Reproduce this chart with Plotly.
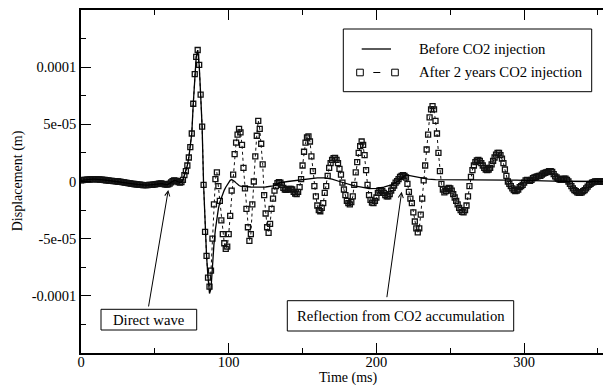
import plotly.graph_objects as go

# ---------------- data (displacement in units of 1e-5 m) ----------------
SCALE = 1e-5

time_after = list(range(0, 356))  # ms, 1 ms sampling
after_vals = [
    0.10, 0.12, 0.14, 0.15, 0.16, 0.17, 0.18, 0.19, 0.20, 0.20,
    0.20, 0.19, 0.18, 0.17, 0.16, 0.15, 0.13, 0.11, 0.09, 0.07,
    0.06, 0.05, 0.04, 0.03, 0.01, 0.00, -0.02, -0.04, -0.06, -0.08,
    -0.10, -0.12, -0.14, -0.16, -0.18, -0.20, -0.22, -0.24, -0.25, -0.27,
    -0.28, -0.30, -0.31, -0.32, -0.32, -0.31, -0.30, -0.30, -0.29, -0.28,
    -0.26, -0.23, -0.20, -0.18, -0.17, -0.19, -0.23, -0.26, -0.27, -0.25,
    -0.18, -0.08, 0.03, 0.09, 0.08, 0.02, -0.06, -0.10, -0.06, 0.15,
    0.55, 0.90, 1.40, 2.10, 3.00, 4.20, 6.80, 9.40, 10.90, 11.50,
    10.20, 7.60, 4.80, -0.30, -4.40, -6.50, -8.40, -9.20, -7.80, -5.00,
    -2.00, 0.20, 0.80, -0.40, -1.70, -3.40, -4.60, -5.40, -5.90, -5.70,
    -4.60, -3.00, -0.80, 0.60, 2.40, 3.40, 4.10, 4.60, 4.30, 3.20,
    1.20, -0.60, -2.40, -4.00, -5.20, -4.60, -2.00, 0.00, 2.20, 4.00,
    5.30, 4.60, 3.30, 1.50, -1.20, -2.80, -4.00, -4.50, -3.70, -2.40,
    -1.50, -0.80, -0.40, -0.15, -0.05, -0.10, -0.30, -0.55, -0.70, -0.72,
    -0.68, -0.64, -0.64, -0.70, -0.90, -1.05, -1.10, -0.90, -0.50, 0.20,
    1.40, 2.60, 3.40, 3.85, 3.95, 3.50, 2.20, 0.90, -0.40, -1.30,
    -2.10, -2.50, -2.60, -2.30, -1.90, -1.00, -0.40, 0.50, 1.20, 1.60,
    1.90, 2.05, 2.07, 1.90, 1.60, 1.10, 0.60, -0.10, -0.70, -1.20,
    -1.70, -1.90, -2.00, -1.80, -1.30, -0.30, 0.80, 1.70, 2.50, 3.10,
    3.50, 3.20, 2.30, 1.00, -0.30, -1.20, -1.60, -1.85, -1.90, -1.70,
    -1.40, -1.00, -0.80, -0.75, -0.85, -1.00, -1.20, -1.30, -1.30, -1.10,
    -0.80, -0.55, -0.35, -0.10, 0.03, 0.20, 0.40, 0.50, 0.55, 0.50,
    0.35, -0.20, -0.90, -1.50, -1.90, -2.70, -3.50, -4.10, -4.45, -4.10,
    -2.90, -1.50, 0.10, 1.40, 2.80, 4.10, 5.60, 6.30, 6.60, 6.30,
    5.30, 4.20, 2.50, 0.90, -0.20, -0.70, -0.95, -0.85, -0.65, -0.55,
    -0.60, -0.80, -1.10, -1.40, -1.70, -2.00, -2.30, -2.50, -2.65, -2.70,
    -2.50, -2.10, -1.30, -0.40, 0.40, 1.00, 1.40, 1.70, 1.85, 1.90,
    1.80, 1.60, 1.40, 1.20, 1.05, 1.00, 1.05, 1.20, 1.50, 1.80,
    2.10, 2.35, 2.50, 2.50, 2.30, 2.00, 1.60, 1.05, 0.50, 0.00,
    -0.20, -0.40, -0.60, -0.75, -0.85, -0.80, -0.70, -0.50, -0.40, -0.30,
    -0.10, 0.10, 0.15, 0.10, 0.05, 0.15, 0.30, 0.35, 0.40, 0.45,
    0.50, 0.50, 0.60, 0.70, 0.75, 0.80, 0.85, 0.90, 0.90, 0.85,
    0.65, 0.45, 0.35, 0.25, 0.17, 0.15, 0.20, 0.25, 0.25, 0.15,
    0.00, -0.20, -0.40, -0.60, -0.75, -0.85, -0.95, -1.00, -1.00, -0.95,
    -0.85, -0.75, -0.60, -0.45, -0.30, -0.20, -0.10, -0.05, 0.00, 0.00,
    0.00, 0.00, 0.00, 0.00, 0.00, 0.00,
]

time_before = list(range(0, 111)) + list(range(115, 360, 5))  # ms
before_vals = [
    0.10, 0.12, 0.14, 0.15, 0.16, 0.17, 0.18, 0.19, 0.20, 0.20,
    0.20, 0.19, 0.18, 0.17, 0.16, 0.15, 0.13, 0.11, 0.09, 0.07,
    0.06, 0.05, 0.04, 0.03, 0.01, 0.00, -0.02, -0.04, -0.06, -0.08,
    -0.10, -0.12, -0.14, -0.16, -0.18, -0.20, -0.22, -0.24, -0.25, -0.27,
    -0.28, -0.30, -0.31, -0.32, -0.32, -0.31, -0.30, -0.30, -0.29, -0.28,
    -0.26, -0.23, -0.20, -0.18, -0.17, -0.19, -0.23, -0.26, -0.27, -0.25,
    -0.18, -0.08, 0.03, 0.09, 0.08, 0.02, -0.06, -0.10, -0.06, 0.15,
    0.55, 0.90, 1.40, 2.10, 3.00, 4.20, 6.80, 9.40, 10.90, 11.50,
    10.20, 7.60, 4.80, -0.30, -4.40, -6.50, -8.40, -9.80, -9.40, -7.20,
    -5.50, -4.20, -3.20, -2.40, -1.80, -1.40, -1.00, -0.75, -0.50, -0.30,
    -0.10, 0.10, 0.17, 0.12, 0.00, -0.12, -0.25, -0.35, -0.40, -0.42,
    -0.43,
    -0.48, -0.50, -0.48, -0.38, -0.10, 0.00, 0.08, 0.17, 0.28, 0.32,
    0.32, 0.20, 0.00, -0.20, -0.38, -0.50, -0.62, -0.60, -0.50, -0.30,
    0.05, 0.58, 0.45, 0.28, 0.20, 0.17, 0.17, 0.17, 0.17, 0.17,
    0.17, 0.17, 0.17, 0.16, 0.15, 0.14, 0.12, 0.10, 0.07, 0.05,
    0.04, 0.03, 0.02, 0.01, 0.00, 0.00, 0.00, 0.00, 0.00,
]

x_tick_vals = [0, 100, 200, 300]
x_minor_vals = [50, 150, 250, 350]
y_tick_vals = [-1e-4, -5e-5, 0, 5e-5, 1e-4]
y_tick_text = ["-0.0001", "-5e-05", "0", "5e-05", "0.0001"]
y_minor_vals = [-1.25e-4, -7.5e-5, -2.5e-5, 2.5e-5, 7.5e-5, 1.25e-4]

series_names = ["Before CO2 injection", "After 2 years CO2 injection"]

# ---------------- figure ----------------
FONT = "Liberation Serif, Times New Roman, serif"
W, H = 603, 385
ML, MR, MT, MB = 81, 0, 10, 32
PW, PH = W - ML - MR, H - MT - MB


def pxx(x):
    return (x - ML) / PW


def pxy(y):
    return (H - MB - y) / PH


fig = go.Figure()
fig.add_trace(go.Scatter(
    x=time_after, y=[v * SCALE for v in after_vals], mode="lines+markers",
    name=series_names[1],
    line=dict(color="#111", width=1, dash="dot"),
    marker=dict(symbol="square-open", size=5, color="#111", line=dict(width=1.3, color="#111")),
    showlegend=False,
))
fig.add_trace(go.Scatter(
    x=time_before, y=[v * SCALE for v in before_vals], mode="lines",
    name=series_names[0],
    line=dict(color="black", width=1.3),
    showlegend=False,
))

axis_common = dict(
    showgrid=False, zeroline=False, showline=True, linecolor="black", linewidth=1.5,
    ticks="inside", ticklen=10, tickwidth=1.2, tickcolor="black",
    tickfont=dict(family=FONT, size=14.5, color="black"),
)
fig.update_xaxes(range=[0, 353.4], tickvals=x_tick_vals, mirror="ticks", ticklabelstandoff=-5,
                 minor=dict(tickvals=x_minor_vals, ticklen=5, ticks="inside", tickcolor="black", tickwidth=1.2),
                 **axis_common)
fig.update_yaxes(range=[-1.5e-4, 1.5e-4], tickvals=y_tick_vals, ticktext=y_tick_text, mirror=False,
                 minor=dict(tickvals=y_minor_vals, ticklen=5, ticks="inside", tickcolor="black", tickwidth=1.2),
                 **axis_common)

shapes = []
annotations = []
txt = dict(family=FONT, size=14.7, color="black")

# legend box
shapes.append(dict(type="rect", xref="paper", yref="paper", x0=pxx(343.3), x1=pxx(591.7),
                   y0=pxy(91.7), y1=pxy(29), line=dict(color="black", width=1)))
shapes.append(dict(type="line", xref="paper", yref="paper", x0=pxx(361.7), x1=pxx(391),
                   y0=pxy(49), y1=pxy(49), line=dict(color="black", width=1.3)))
for cx in (360, 395):
    shapes.append(dict(type="rect", xref="paper", yref="paper", x0=pxx(cx - 3.3), x1=pxx(cx + 3.3),
                       y0=pxy(72.5 + 3.3), y1=pxy(72.5 - 3.3), line=dict(color="black", width=1)))
shapes.append(dict(type="line", xref="paper", yref="paper", x0=pxx(373.3), x1=pxx(380.3),
                   y0=pxy(72.5), y1=pxy(72.5), line=dict(color="black", width=1)))
annotations.append(dict(xref="paper", yref="paper", x=pxx(416.5), y=pxy(49), text=series_names[0],
                        showarrow=False, xanchor="left", yanchor="middle", font=txt))
annotations.append(dict(xref="paper", yref="paper", x=pxx(416.5), y=pxy(71.7), text=series_names[1],
                        showarrow=False, xanchor="left", yanchor="middle", font=txt))

# callout boxes
shapes.append(dict(type="rect", xref="paper", yref="paper", x0=pxx(101), x1=pxx(196.7),
                   y0=pxy(330), y1=pxy(309.3), line=dict(color="black", width=1)))
annotations.append(dict(xref="paper", yref="paper", x=pxx(148.8), y=pxy(319.6), text="Direct wave",
                        showarrow=False, xanchor="center", yanchor="middle", font=txt))
shapes.append(dict(type="rect", xref="paper", yref="paper", x0=pxx(287.3), x1=pxx(513.7),
                   y0=pxy(331), y1=pxy(300.7), line=dict(color="black", width=1)))
annotations.append(dict(xref="paper", yref="paper", x=pxx(400.5), y=pxy(315.8),
                        text="Reflection from CO2 accumulation",
                        showarrow=False, xanchor="center", yanchor="middle", font=txt))

# arrows
annotations.append(dict(x=59.1, y=-0.74e-5, xref="x", yref="y", text="", showarrow=True,
                        ax=-20, ay=118, arrowhead=5, arrowsize=1, arrowwidth=1, arrowcolor="black"))
annotations.append(dict(x=217.1, y=-0.89e-5, xref="x", yref="y", text="", showarrow=True,
                        ax=-15, ay=107, arrowhead=5, arrowsize=1, arrowwidth=1, arrowcolor="black"))

# axis titles
annotations.append(dict(xref="paper", yref="paper", x=pxx(348.3), y=pxy(378.3), text="Time (ms)",
                        showarrow=False, xanchor="center", yanchor="middle",
                        font=dict(family=FONT, size=14, color="black")))
annotations.append(dict(xref="paper", yref="paper", x=pxx(18.3), y=pxy(181), text="Displacement (m)",
                        textangle=-90, showarrow=False, xanchor="center", yanchor="middle",
                        font=dict(family=FONT, size=14, color="black")))

fig.update_layout(
    width=W, height=H, margin=dict(l=ML, r=MR, t=MT, b=MB),
    paper_bgcolor="white", plot_bgcolor="white",
    shapes=shapes, annotations=annotations, showlegend=False,
    font=dict(family=FONT, color="black"),
)

fig.write_html("out.html", config={"displayModeBar": False},
               post_script="document.body.style.margin='0';document.body.style.overflow='hidden';")
